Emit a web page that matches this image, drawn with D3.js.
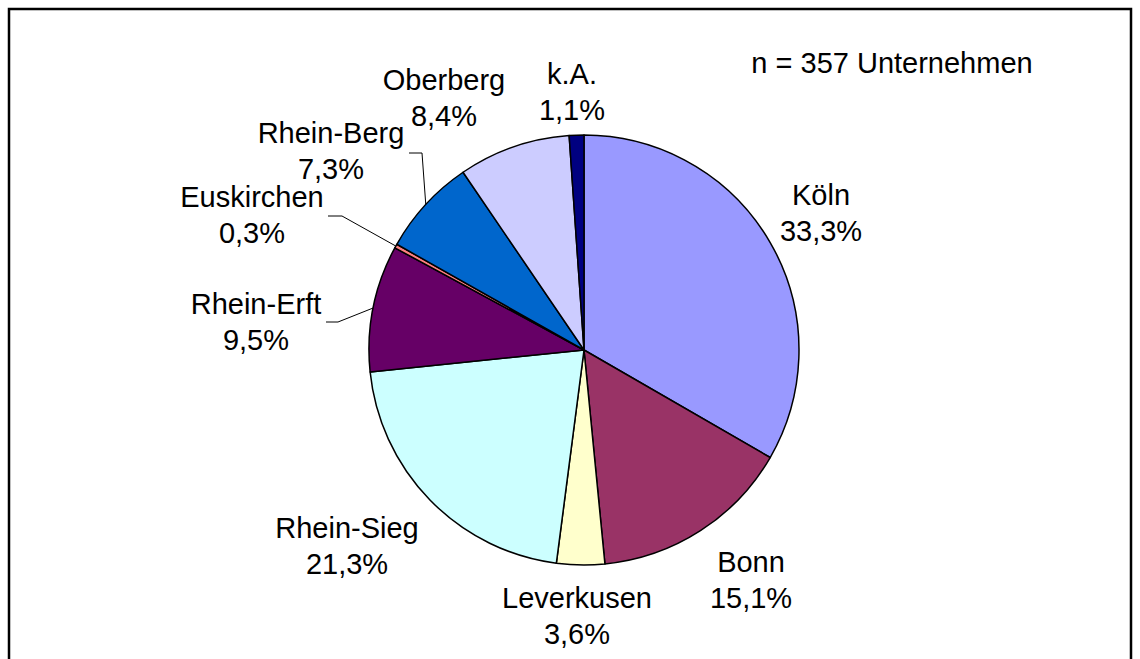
<!DOCTYPE html>
<html>
<head>
<meta charset="utf-8">
<script src="https://cdn.jsdelivr.net/npm/d3@7"></script>
<style>
  body { margin: 0; background: #fff; }
  text { font-family: "Liberation Sans", Arial, sans-serif; fill: #000; }
</style>
</head>
<body>
<div id="chart"></div>
<script>
// Data
const regions = ["Köln", "Bonn", "Leverkusen", "Rhein-Sieg", "Rhein-Erft", "Euskirchen", "Rhein-Berg", "Oberberg", "k.A."];
const shares = [33.3, 15.1, 3.6, 21.3, 9.5, 0.3, 7.3, 8.4, 1.1];
const shareLabels = ["33,3%", "15,1%", "3,6%", "21,3%", "9,5%", "0,3%", "7,3%", "8,4%", "1,1%"];
const sliceColors = ["#9999ff", "#993366", "#ffffcc", "#ccffff", "#660066", "#ff8080", "#0066cc", "#ccccff", "#000080"];
const note = "n = 357 Unternehmen";

// Layout: label centre x / first baseline, leader [x0, y, x1] for the small ones
const labelAt = [[821, 205], [751, 572], [577, 608], [347, 538], [256, 314], [252, 207], [331, 143], [444, 90], [572, 84]];
const leaders = { 4: [326, 322, 338], 5: [328, 216, 342], 6: [409, 153, 422] };

const width = 1140, height = 659;
const cx = 584, cy = 350, r = 215;
const lineGap = 36;

const svg = d3.select("#chart").append("svg")
    .attr("width", width)
    .attr("height", height);

// frame
svg.append("rect")
    .attr("x", 9).attr("y", 9)
    .attr("width", 1122).attr("height", 670)
    .attr("fill", "none")
    .attr("stroke", "#000")
    .attr("stroke-width", 2.5);

const pie = d3.pie().sort(null).value(d => d);
const arcs = pie(shares);
const arc = d3.arc().innerRadius(0).outerRadius(r);
const rim = d3.arc().innerRadius(r).outerRadius(r);

const g = svg.append("g").attr("transform", `translate(${cx},${cy})`);

g.selectAll("path")
  .data(arcs)
  .enter()
  .append("path")
  .attr("d", arc)
  .attr("fill", (d, i) => sliceColors[i])
  .attr("stroke", "#000")
  .attr("stroke-width", 1.5)
  .attr("stroke-linejoin", "round");

// leader lines
Object.keys(leaders).forEach(k => {
  const [x0, y, x1] = leaders[k];
  const [mx, my] = rim.centroid(arcs[k]);
  svg.append("polyline")
     .attr("points", `${x0},${y} ${x1},${y} ${cx + mx},${cy + my}`)
     .attr("fill", "none")
     .attr("stroke", "#000")
     .attr("stroke-width", 1);
});

// labels
const labels = svg.selectAll("text.lbl")
  .data(regions)
  .enter()
  .append("text")
  .attr("class", "lbl")
  .attr("text-anchor", "middle")
  .attr("font-size", 29);

labels.append("tspan")
  .attr("x", (d, i) => labelAt[i][0])
  .attr("y", (d, i) => labelAt[i][1])
  .text(d => d);

labels.append("tspan")
  .attr("x", (d, i) => labelAt[i][0])
  .attr("y", (d, i) => labelAt[i][1] + lineGap)
  .text((d, i) => shareLabels[i]);

svg.append("text")
  .attr("x", 892)
  .attr("y", 73)
  .attr("text-anchor", "middle")
  .attr("font-size", 29)
  .text(note);
</script>
</body>
</html>
